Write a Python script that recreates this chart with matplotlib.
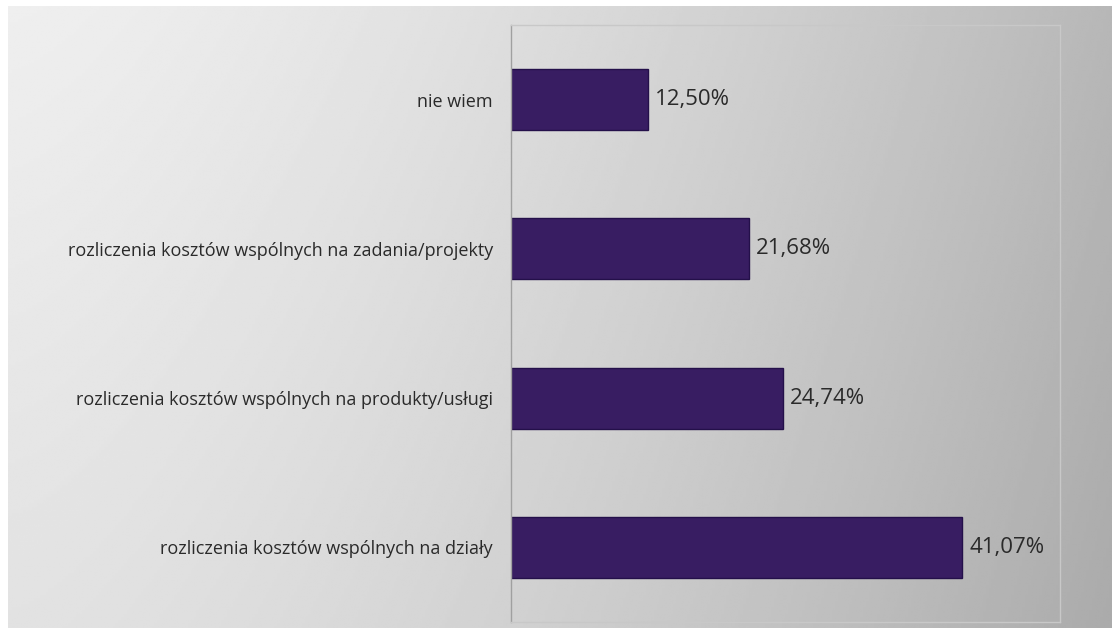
import numpy as np
import matplotlib.pyplot as plt

plt.rcParams['font.family'] = ['Open Sans', 'DejaVu Sans']

kategorie = ['rozliczenia kosztów wspólnych na działy',
             'rozliczenia kosztów wspólnych na produkty/usługi',
             'rozliczenia kosztów wspólnych na zadania/projekty',
             'nie wiem']
wartosci = [41.07, 24.74, 21.68, 12.50]
etykiety = ['41,07%', '24,74%', '21,68%', '12,50%']

fig = plt.figure(figsize=(11.12, 6.28), dpi=100)

# tło z gradientem (jasne z lewej u góry, ciemniejsze z prawej u dołu)
tlo = fig.add_axes([8/1112, -0.01, 1 - 8/1112 + 0.01, 1.01 - 6/628])
gx = np.linspace(0, 1, 400)
gy = np.linspace(0, 1, 200)
X, Y = np.meshgrid(gx, gy)
szary = 0.935 - 0.22 * X**1.5 - 0.05 * Y
tlo.imshow(szary, cmap='gray', vmin=0, vmax=1, aspect='auto',
           extent=[0, 1, 1, 0], interpolation='bilinear')
tlo.set_axis_off()

ax = fig.add_axes([511/1112, 1 - 622/628, (1060 - 511)/1112, (622 - 25)/628])
ax.patch.set_alpha(0)
y = np.arange(len(kategorie))
ax.barh(y, wartosci, height=0.41, color='#381d62', edgecolor='#24104a', linewidth=1)
ax.set_xlim(0, 50)
ax.set_ylim(-0.5, 3.5)
ax.set_yticks(y)
ax.set_yticklabels(kategorie, fontsize=13, color='#2a2a2a')
ax.tick_params(axis='y', length=0, pad=13)
ax.set_xticks([])

for yi, w, t in zip(y, wartosci, etykiety):
    ax.text(w + 0.65, yi, t, va='center', ha='left', fontsize=16, color='#2a2a2a')

for s in ['top', 'right', 'bottom']:
    ax.spines[s].set_color('#c8c8c8')
    ax.spines[s].set_linewidth(1)
ax.spines['left'].set_color('#a0a0a0')
ax.spines['left'].set_linewidth(1)

fig.savefig('out.png', dpi=100)
